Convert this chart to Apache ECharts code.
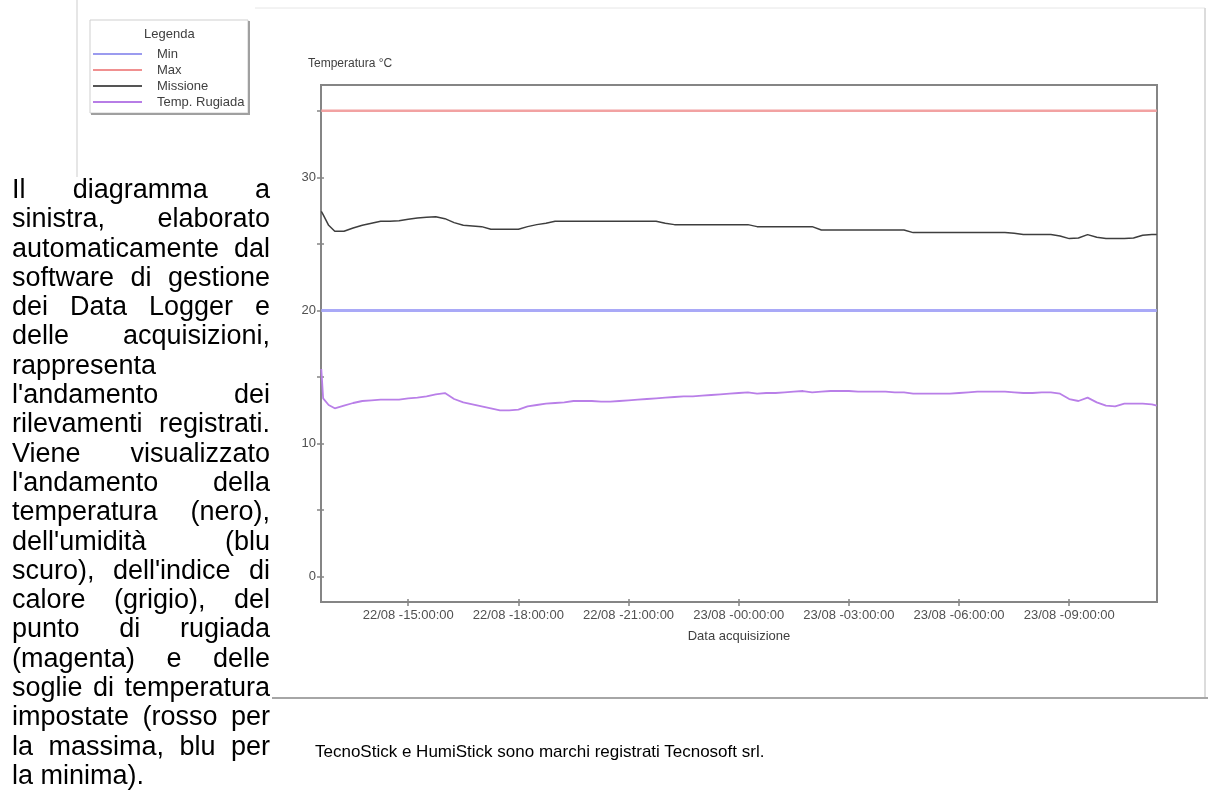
<!DOCTYPE html>
<html><head><meta charset="utf-8">
<script src="https://cdn.jsdelivr.net/npm/echarts@6/dist/echarts.min.js"></script>
<style>
html,body{margin:0;padding:0;background:#fff;width:1208px;height:791px;overflow:hidden;}
#chart{position:absolute;left:0;top:0;width:1208px;height:791px;}
#para{position:absolute;left:12px;top:175px;width:258px;font-family:"Liberation Sans",Arial,sans-serif;font-size:27px;line-height:29.3px;text-align:justify;color:#000;}
#caption{position:absolute;left:315px;top:742px;font-family:"Liberation Sans",Arial,sans-serif;font-size:17px;color:#000;white-space:nowrap;}
</style></head>
<body>
<div id="chart"></div>
<div id="para">Il diagramma a sinistra, elaborato automaticamente dal software di gestione dei Data Logger e delle acquisizioni, rappresenta l'andamento dei rilevamenti registrati. Viene visualizzato l'andamento della temperatura (nero), dell'umidità (blu scuro), dell'indice di calore (grigio), del punto di rugiada (magenta) e delle soglie di temperatura impostate (rosso per la massima, blu per la minima).</div>
<div id="caption">TecnoStick e HumiStick sono marchi registrati Tecnosoft srl.</div>
<script>
// ---- data ----
var times = [
'22/08 12:38','22/08 12:41','22/08 12:50',
'22/08 13:00','22/08 13:15','22/08 13:30','22/08 13:45',
'22/08 14:00','22/08 14:15','22/08 14:30','22/08 14:45',
'22/08 15:00','22/08 15:15','22/08 15:30','22/08 15:45',
'22/08 16:00','22/08 16:15','22/08 16:30','22/08 16:45',
'22/08 17:00','22/08 17:15','22/08 17:30','22/08 17:45',
'22/08 18:00','22/08 18:15','22/08 18:30','22/08 18:45',
'22/08 19:00','22/08 19:15','22/08 19:30','22/08 19:45',
'22/08 20:00','22/08 20:15','22/08 20:30','22/08 20:45',
'22/08 21:00','22/08 21:15','22/08 21:30','22/08 21:45',
'22/08 22:00','22/08 22:15','22/08 22:30','22/08 22:45',
'22/08 23:00','22/08 23:15','22/08 23:30','22/08 23:45',
'23/08 00:00','23/08 00:15','23/08 00:30','23/08 00:45',
'23/08 01:00','23/08 01:15','23/08 01:30','23/08 01:45',
'23/08 02:00','23/08 02:15','23/08 02:30','23/08 02:45',
'23/08 03:00','23/08 03:15','23/08 03:30','23/08 03:45',
'23/08 04:00','23/08 04:15','23/08 04:30','23/08 04:45',
'23/08 05:00','23/08 05:15','23/08 05:30','23/08 05:45',
'23/08 06:00','23/08 06:15','23/08 06:30','23/08 06:45',
'23/08 07:00','23/08 07:15','23/08 07:30','23/08 07:45',
'23/08 08:00','23/08 08:15','23/08 08:30','23/08 08:45',
'23/08 09:00','23/08 09:15','23/08 09:30','23/08 09:45',
'23/08 10:00','23/08 10:15','23/08 10:30','23/08 10:45',
'23/08 11:00','23/08 11:15','23/08 11:23'
];
var missione = [
27.45,27.2,26.4,
25.95,25.95,26.2,26.4,26.55,26.7,26.7,26.75,26.85,26.95,27.0,27.05,
26.9,26.6,26.4,26.35,26.3,26.1,26.1,26.1,26.1,26.3,26.45,26.55,
26.7,26.7,26.7,26.7,26.7,26.7,26.7,26.7,26.7,26.7,26.7,26.7,
26.55,26.45,26.45,26.45,26.45,26.45,26.45,26.45,26.45,26.45,26.3,26.3,
26.3,26.3,26.3,26.3,26.3,26.05,26.05,26.05,26.05,26.05,26.05,26.05,
26.05,26.05,26.05,25.85,25.85,25.85,25.85,25.85,25.85,25.85,25.85,25.85,
25.85,25.85,25.8,25.7,25.7,25.7,25.7,25.6,25.4,25.45,25.7,25.5,
25.4,25.4,25.4,25.45,25.65,25.7,25.7
];
var rugiada = [
15.6,13.4,12.9,
12.65,12.85,13.05,13.2,13.25,13.3,13.3,13.3,13.4,13.45,13.55,13.7,
13.8,13.35,13.1,12.95,12.8,12.65,12.5,12.5,12.55,12.8,12.9,13.0,
13.05,13.1,13.2,13.2,13.2,13.15,13.15,13.2,13.25,13.3,13.35,13.4,
13.45,13.5,13.55,13.55,13.6,13.65,13.7,13.75,13.8,13.85,13.75,13.8,
13.8,13.85,13.9,13.95,13.85,13.9,13.95,13.95,13.95,13.9,13.9,13.9,
13.9,13.85,13.85,13.75,13.75,13.75,13.75,13.75,13.8,13.85,13.9,13.9,
13.9,13.9,13.85,13.8,13.8,13.85,13.85,13.75,13.35,13.2,13.45,13.1,
12.85,12.8,13.0,13.0,13.0,12.95,12.85
];
var sogliaMin = 20;
var sogliaMax = 35;
var seriesNames = ['Min','Max','Missione','Temp. Rugiada'];
var xTickHours = [15,18,21,24,27,30,33];
var yTickValues = [0,5,10,15,20,25,30,35];
var yLabelValues = [0,10,20,30];

// ---- helpers ----
function toHours(s){
  var day = parseInt(s.slice(0,2),10);
  var hh = parseInt(s.slice(6,8),10);
  var mm = parseInt(s.slice(9,11),10);
  return (day-22)*24 + hh + mm/60;
}
function pad(n){return (n<10?'0':'')+n;}
function fmtX(h){
  var d = 22 + Math.floor(h/24);
  var hh = Math.round(h - Math.floor(h/24)*24);
  return d + '/08 -' + pad(hh) + ':00:00';
}
var xs = times.map(toHours);
function pairs(vals){ return vals.map(function(v,i){return [xs[i], v];}); }
var x0 = xs[0], x1 = xs[xs.length-1];

var FONT = '"Liberation Sans", Arial, sans-serif';
var AX = '#858585';
var chart = echarts.init(document.getElementById('chart'), null, {renderer:'canvas'});
chart.setOption({
  animation:false,
  backgroundColor:'#ffffff',
  grid:{left:321, top:85, right:51, bottom:189, show:true, borderColor:AX, borderWidth:2, backgroundColor:'transparent'},
  legend:{
    left:93, top:46, orient:'vertical', itemWidth:49, itemHeight:2, itemGap:0, icon:'rect', padding:0,
    selectedMode:false,
    textStyle:{fontFamily:FONT, fontSize:13, lineHeight:16, color:'#404040', padding:[0,0,0,10]},
    data:seriesNames
  },
  graphic:[
    {type:'line', shape:{x1:77,y1:0,x2:77,y2:177}, style:{stroke:'#e6e6e6', lineWidth:2}},
    {type:'line', shape:{x1:255,y1:8,x2:1205,y2:8}, style:{stroke:'#e6e6e6', lineWidth:1}},
    {type:'line', shape:{x1:1205,y1:8,x2:1205,y2:698}, style:{stroke:'#dcdcdc', lineWidth:2}},
    {type:'line', shape:{x1:272,y1:698,x2:1208,y2:698}, style:{stroke:'#a6a6a6', lineWidth:2}},
    {type:'rect', shape:{x:90,y:20,width:158,height:93}, style:{fill:'#fff', stroke:'#cfcfcf', lineWidth:1}},
    {type:'line', shape:{x1:249,y1:21,x2:249,y2:115}, style:{stroke:'#a0a0a0', lineWidth:2}},
    {type:'line', shape:{x1:91,y1:114,x2:250,y2:114}, style:{stroke:'#a0a0a0', lineWidth:2}},
    {type:'text', left:144, top:28, style:{text:'Legenda', font:'13px '+FONT, fill:'#404040'}},
    {type:'text', left:308, top:58, style:{text:'Temperatura °C', font:'12px '+FONT, fill:'#404040'}}
  ],
  xAxis:[{
    type:'value', min:12.625, max:35.39, position:'bottom',
    name:'Data acquisizione', nameLocation:'middle', nameGap:28,
    nameTextStyle:{fontFamily:FONT, fontSize:13, color:'#404040'},
    axisLine:{show:true, onZero:false, lineStyle:{color:AX, width:2}},
    axisTick:{show:true, length:4, customValues:xTickHours, lineStyle:{color:AX, width:1.5}},
    axisLabel:{show:true, customValues:xTickHours, formatter:fmtX, margin:7, fontFamily:FONT, fontSize:13, color:'#505050'},
    splitLine:{show:false}
  },{
    type:'value', min:12.625, max:35.39, position:'bottom', offset:0,
    axisLine:{show:false, onZero:false},
    axisTick:{show:true, inside:true, length:3, customValues:xTickHours, lineStyle:{color:AX, width:1.5}},
    axisLabel:{show:false}, splitLine:{show:false}
  }],
  yAxis:[{
    type:'value', min:-1.9, max:36.94, position:'left',
    axisLine:{show:true, onZero:false, lineStyle:{color:AX, width:2}},
    axisTick:{show:true, length:4, customValues:yTickValues, lineStyle:{color:AX, width:1.5}},
    axisLabel:{show:true, customValues:yLabelValues, margin:5, fontFamily:FONT, fontSize:13, color:'#505050'},
    splitLine:{show:false}
  },{
    type:'value', min:-1.9, max:36.94, position:'left', offset:0,
    axisLine:{show:false, onZero:false},
    axisTick:{show:true, inside:true, length:3, customValues:yTickValues, lineStyle:{color:AX, width:1.5}},
    axisLabel:{show:false}, splitLine:{show:false}
  }],
  series:[
    {name:'Min', type:'line', symbol:'none', data:[[x0,sogliaMin],[x1,sogliaMin]],
     lineStyle:{color:'#a9a9f7', width:3}, itemStyle:{color:'#9b9bef'}},
    {name:'Max', type:'line', symbol:'none', data:[[x0,sogliaMax],[x1,sogliaMax]],
     lineStyle:{color:'#f2a2a2', width:2.5}, itemStyle:{color:'#f09090'}},
    {name:'Missione', type:'line', symbol:'none', data:pairs(missione),
     lineStyle:{color:'#3e3e3e', width:1.5}, itemStyle:{color:'#555555'}},
    {name:'Temp. Rugiada', type:'line', symbol:'none', data:pairs(rugiada),
     lineStyle:{color:'#b97fe8', width:1.8}, itemStyle:{color:'#b77de6'}}
  ]
});
</script>
</body></html>
